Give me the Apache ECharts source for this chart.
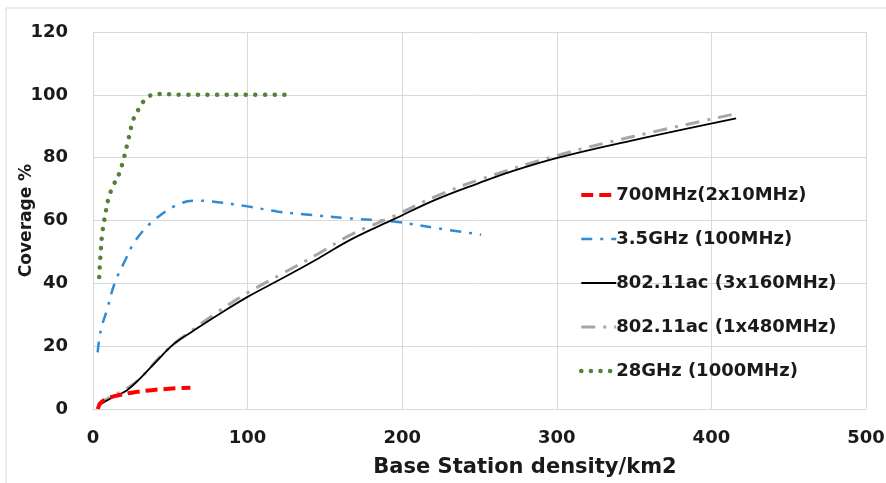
<!DOCTYPE html>
<html>
<head>
<meta charset="utf-8">
<script src="https://cdn.jsdelivr.net/npm/echarts@6/dist/echarts.min.js"></script>
<style>
  html, body { margin: 0; padding: 0; background: #fff; }
  #chart { width: 886px; height: 483px; }
</style>
</head>
<body>
<div id="chart"></div>
<script>
// values: [density, coverage %]
var seriesNames = ['700MHz(2x10MHz)', '3.5GHz (100MHz)', '802.11ac (3x160MHz)', '802.11ac (1x480MHz)', '28GHz (1000MHz)'];
var seriesColors = ['#ff0000', '#2e8bd6', '#000000', '#a6a6a6', '#548235'];

var red700 = [[3, 0], [5, 2], [8, 3], [11, 3.7], [18, 4.5], [25, 5.2], [38, 6], [51, 6.5], [63, 6.8]];

var blue35 = [[3, 18], [5, 25], [9, 31.5], [14, 40], [21, 47.5], [28, 54], [41, 60.7], [57, 65.5],
  [68, 66.3], [81, 65.8], [100, 64.5], [120, 62.8], [136, 62], [163, 60.8], [197, 59.5], [223, 57.5], [251, 55.5]];

var black3x160 = [[3, 1], [12, 3.5], [22, 6], [31, 10], [44, 16.7], [53, 21], [64, 24.6], [81, 30],
  [100, 35.7], [124, 42], [146, 48], [167, 54], [195, 60.5], [221, 66.5], [250, 72], [270, 75.5],
  [301, 80], [350, 85.6], [416, 92.5]];

var gray1x480 = [[3, 1.5], [12, 4], [22, 6.5], [31, 10], [44, 17], [53, 21], [64, 25], [81, 31],
  [100, 37], [124, 43.5], [146, 49.5], [167, 55.5], [195, 61.5], [221, 67.5], [250, 73], [301, 80.8],
  [350, 86.8], [416, 94]];

var green28 = [[4, 42], [5, 50], [6, 56], [8, 62], [10, 67], [13, 71], [17, 75], [20, 80], [23, 86],
  [26, 92], [29, 95], [32, 97.5], [36, 99.5], [42, 100.3], [60, 100], [80, 100], [100, 100], [129, 100]];

var font = '"DejaVu Sans", "Liberation Sans", sans-serif';

var lineStyles = [
    { color: seriesColors[0], width: 4, type: [12, 6] },
    { color: seriesColors[1], width: 2.5, type: [11, 8, 3, 8] },
    { color: seriesColors[2], width: 1.8, type: 'solid' },
    { color: seriesColors[3], width: 3, type: [14, 8, 3, 8] },
    { color: seriesColors[4], width: 4.5, type: [0.1, 9.5], cap: 'round' }
];
var seriesData = [red700, blue35, black3x160, gray1x480, green28];
var zOrder = [5, 2, 4, 3, 2];

var myChart = echarts.init(document.getElementById('chart'));

option = {
    animation: false,
    grid: { left: 93, right: 20, top: 32, bottom: 74, containLabel: false, outerBoundsMode: 'none' },
    graphic: [
        {
            type: 'rect',
            shape: { x: 6, y: 8, width: 900, height: 500 },
            style: { fill: 'none', stroke: '#d9d9d9', lineWidth: 1 },
            silent: true
        },
        {
            type: 'text',
            x: 525, y: 468,
            style: {
                text: 'Base Station density/km2',
                font: 'bold 21px ' + font,
                fill: '#1a1a1a',
                textAlign: 'center',
                textVerticalAlign: 'middle'
            }
        }
    ],
    legend: {
        orient: 'vertical',
        left: 574,
        top: 181,
        itemWidth: 35,
        itemHeight: 14,
        itemGap: 26,
        data: seriesNames.map(function (n, i) {
            return { name: n, itemStyle: { opacity: 0 }, lineStyle: lineStyles[i] };
        }),
        textStyle: { fontFamily: font, fontWeight: 'bold', fontSize: 18, color: '#1a1a1a', padding: [0, 0, 0, -5] }
    },
    xAxis: {
        type: 'value',
        min: 0, max: 500, interval: 100,
        axisLine: { lineStyle: { color: '#d9d9d9' } },
        axisTick: { show: false },
        splitLine: { lineStyle: { color: '#d9d9d9' } },
        axisLabel: { fontFamily: font, fontWeight: 'bold', fontSize: 18, color: '#1a1a1a', margin: 20 }
    },
    yAxis: {
        type: 'value',
        min: 0, max: 120, interval: 20,
        name: 'Coverage %',
        nameLocation: 'middle',
        nameGap: 58,
        nameMoveOverlap: false,
        nameTextStyle: { fontFamily: font, fontWeight: 'bold', fontSize: 17, color: '#1a1a1a' },
        axisLine: { show: true, lineStyle: { color: '#d9d9d9' } },
        axisTick: { show: false },
        splitLine: { lineStyle: { color: '#d9d9d9' } },
        axisLabel: { fontFamily: font, fontWeight: 'bold', fontSize: 18, color: '#1a1a1a', margin: 25 }
    },
    series: seriesNames.map(function (n, i) {
        return {
            name: n, type: 'line', data: seriesData[i], smooth: 0.4, symbol: 'none', z: zOrder[i],
            lineStyle: lineStyles[i],
            itemStyle: { color: seriesColors[i] }
        };
    })
};

myChart.setOption(option);
</script>
</body>
</html>
